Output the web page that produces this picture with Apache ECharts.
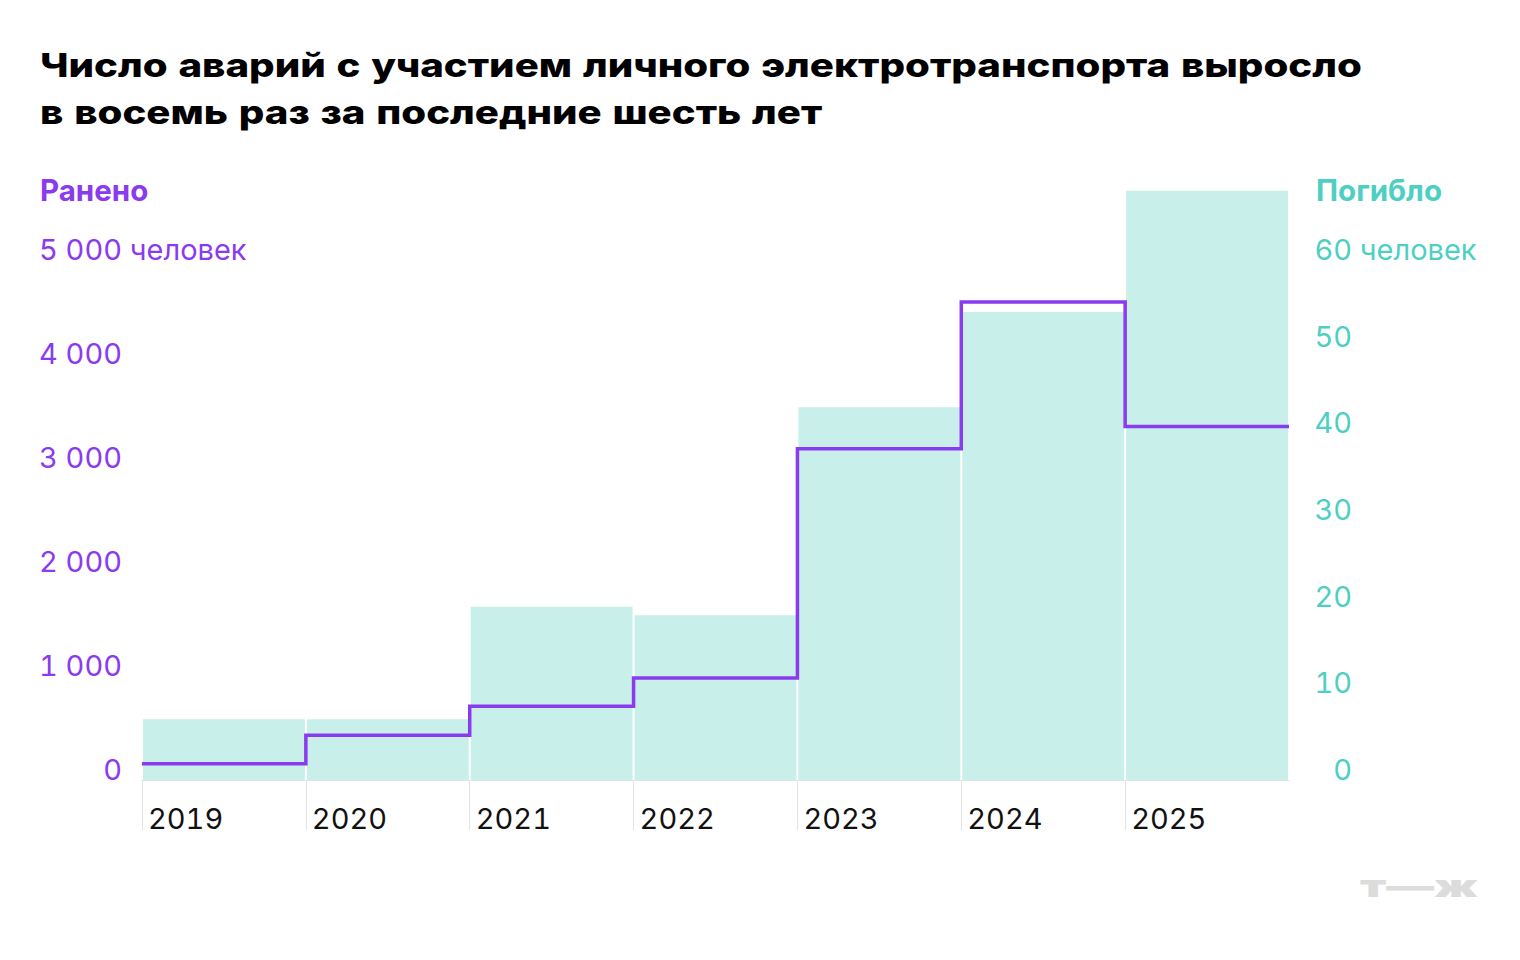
<!DOCTYPE html>
<html>
<head>
<meta charset="utf-8">
<script src="https://cdn.jsdelivr.net/npm/echarts@6/dist/echarts.min.js"></script>
<style>
html,body{margin:0;padding:0;background:#fff;}
#chart{width:1520px;height:960px;}
#chart svg text{font-feature-settings:"tnum" 1;}
</style>
</head>
<body>
<div id="chart"></div>
<script>
// Data
const years = ['2019', '2020', '2021', '2022', '2023', '2024', '2025'];
const injured = [156, 430, 708, 980, 3185, 4595, 3400];   // Ранено (left axis)
const killed = [7, 7, 20, 19, 43, 54, 68];                 // Погибло (right axis)
const leftTicks = [0, 1000, 2000, 3000, 4000, 5000];
const rightTicks = [0, 10, 20, 30, 40, 50, 60];
const unitText = ' человек';
const titleLines = ['Число аварий с участием личного электротранспорта выросло', 'в восемь раз за последние шесть лет'];

const PURPLE = '#8a3bef';
const TEAL = '#4ecfc4';
const BAR = '#c9efeb';
const FONT = 'Inter';
const LABEL_SIZE = 29;

const stepPoints = injured.map((v, i) => [i, v]).concat([[years.length, injured[injured.length - 1]]]);

function fmtThousands(v) {
  return String(v).replace(/\B(?=(\d{3})+(?!\d))/g, ' ');
}
const mctx = document.createElement('canvas').getContext('2d');
function measure(text, font) { mctx.font = font; return mctx.measureText(text).width; }

const TITLE_SIZE = 33;
const titleFont = `800 ${TITLE_SIZE}px ${FONT}`;
const titleScale = 1310 / measure(titleLines[0], titleFont);
const LOGO_SIZE = 30;
const logoScale = 118 / measure('т—ж', `900 ${LOGO_SIZE}px ${FONT}`);

const chart = echarts.init(document.getElementById('chart'), null, {renderer: 'svg'});
const option = {
  backgroundColor: '#fff',
  animation: false,
  textStyle: {fontFamily: FONT},
  grid: {left: 142, right: 231, top: 260, bottom: 180, containLabel: false},
  xAxis: [
    {type: 'category', data: years, boundaryGap: true, show: false},
    {
      type: 'value',
      min: 0,
      max: years.length,
      interval: 1,
      position: 'bottom',
      axisLine: {show: true, lineStyle: {color: '#e3e3e3', width: 1}},
      axisTick: {show: true, length: 50, customValues: years.map((y, i) => i), lineStyle: {color: '#e3e3e3', width: 1}},
      splitLine: {show: false},
      axisLabel: {
        customValues: years.map((y, i) => i),
        formatter: v => years[v] || '',
        align: 'left',
        verticalAlign: 'top',
        lineHeight: 29,
        margin: 24,
        padding: [0, 0, 0, 6],
        fontFamily: FONT,
        fontSize: LABEL_SIZE,
        color: '#111'
      }
    }
  ],
  yAxis: [
    {
      type: 'value',
      min: leftTicks[0],
      max: leftTicks[leftTicks.length - 1],
      interval: 1000,
      position: 'left',
      axisLine: {show: false},
      axisTick: {show: false},
      splitLine: {show: false},
      axisLabel: {
        formatter: v => fmtThousands(v),
        align: 'right',
        verticalAlign: 'bottom',
        lineHeight: 21,
        margin: 20,
        fontFamily: FONT,
        fontSize: LABEL_SIZE,
        color: PURPLE
      }
    },
    {
      type: 'value',
      min: rightTicks[0],
      max: rightTicks[rightTicks.length - 1],
      interval: 10,
      position: 'right',
      axisLine: {show: false},
      axisTick: {show: false},
      splitLine: {show: false},
      axisLabel: {
        formatter: v => String(v),
        align: 'right',
        verticalAlign: 'bottom',
        lineHeight: 21,
        margin: 63,
        fontFamily: FONT,
        fontSize: LABEL_SIZE,
        color: TEAL
      }
    }
  ],
  series: [
    {
      type: 'bar',
      name: 'Погибло',
      xAxisIndex: 0,
      yAxisIndex: 1,
      data: killed,
      barCategoryGap: '1.2%',
      clip: false,
      itemStyle: {color: BAR},
      z: 1
    },
    {
      type: 'line',
      name: 'Ранено',
      xAxisIndex: 1,
      yAxisIndex: 0,
      data: stepPoints,
      step: 'end',
      symbol: 'none',
      clip: false,
      lineStyle: {color: PURPLE, width: 3.5, join: 'miter', cap: 'butt'},
      z: 3
    }
  ]
};
chart.setOption(option);

// unit suffix next to the top tick label of each axis, positioned from the axis scales
const yLeftTop = chart.convertToPixel({yAxisIndex: 0}, leftTicks[leftTicks.length - 1]);
const yRightTop = chart.convertToPixel({yAxisIndex: 1}, rightTicks[rightTicks.length - 1]);
const gridLeft = chart.convertToPixel({xAxisIndex: 1}, 0);
const gridRight = chart.convertToPixel({xAxisIndex: 1}, years.length);

chart.setOption({
  graphic: [
    {type: 'text', x: 40, y: 41.5, scaleX: titleScale,
      style: {text: titleLines.join('\n'), fontFamily: FONT, fontSize: TITLE_SIZE, fontWeight: 800, fill: '#000', lineHeight: 47, verticalAlign: 'top'}},
    {type: 'text', x: 40, y: 190, style: {text: 'Ранено', fontFamily: FONT, fontSize: 29.5, fontWeight: 700, fill: PURPLE, verticalAlign: 'middle'}},
    {type: 'text', x: 1316, y: 190, style: {text: 'Погибло', fontFamily: FONT, fontSize: 29.5, fontWeight: 700, fill: TEAL, verticalAlign: 'middle'}},
    {type: 'text', x: gridLeft - 20, y: yLeftTop, style: {text: unitText, fontFamily: FONT, fontSize: LABEL_SIZE, fill: PURPLE, align: 'left', verticalAlign: 'bottom', lineHeight: 21}},
    {type: 'text', x: gridRight + 63, y: yRightTop, style: {text: unitText, fontFamily: FONT, fontSize: LABEL_SIZE, fill: TEAL, align: 'left', verticalAlign: 'bottom', lineHeight: 21}},
    {type: 'text', x: 1360, y: 886, scaleX: logoScale, style: {text: 'т—ж', fontFamily: FONT, fontSize: LOGO_SIZE, fontWeight: 900, fill: '#dcdcdc', verticalAlign: 'middle'}}
  ]
});
</script>
</body>
</html>
